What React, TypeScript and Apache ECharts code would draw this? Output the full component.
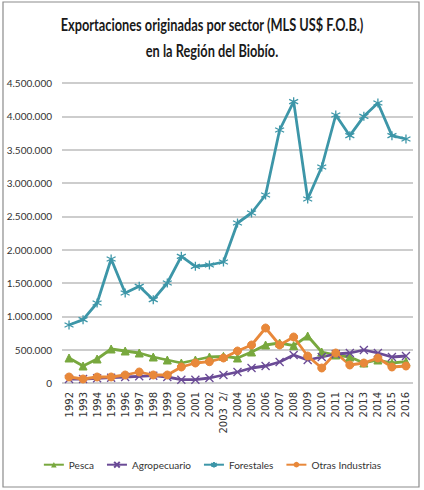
import React, { useEffect, useRef } from "react";
import * as echarts from "echarts";

const years = ["1992","1993","1994","1995","1996","1997","1998","1999","2000","2001","2002","2003  2/","2004","2005","2006","2007","2008","2009","2010","2011","2012","2013","2014","2015","2016"];
const pesca = [375000,255000,360000,510000,480000,450000,390000,345000,300000,345000,390000,400000,375000,465000,570000,600000,560000,705000,465000,420000,390000,300000,345000,300000,320000];
const agropecuario = [60000,60000,70000,80000,90000,100000,110000,90000,50000,50000,75000,120000,165000,225000,255000,315000,420000,345000,390000,435000,450000,495000,450000,390000,405000];
const forestales = [870000,950000,1200000,1860000,1350000,1450000,1250000,1500000,1900000,1750000,1770000,1815000,2400000,2550000,2820000,3795000,4220000,2760000,3240000,4020000,3710000,4000000,4200000,3710000,3660000];
const otras = [90000,60000,90000,90000,120000,165000,120000,120000,240000,300000,320000,375000,480000,570000,825000,570000,690000,405000,225000,450000,270000,300000,375000,240000,255000];

const FONT = "Lato, 'Open Sans', sans-serif";

export default function App() {
  const ref = useRef<HTMLDivElement>(null);
  useEffect(() => {
    document.body.style.margin = "0";
    const chart = echarts.init(ref.current!, null, { renderer: "svg" });
    const fmt = (v: number) => v === 0 ? "0" : String(v).replace(/\B(?=(\d{3})+(?!\d))/g, ".");
    const asterisk = "path://M5,0L5,10M0.7,2.5L9.3,7.5M0.7,7.5L9.3,2.5";
    const xmark = "path://M0,0L10,10M0,10L10,0";
    const mk = (name: string, data: number[], color: string, symbol: string, stroke: boolean, size: number) => ({
      name,
      type: "line",
      data,
      symbol,
      symbolSize: size,
      lineStyle: { color, width: 2.8 },
      itemStyle: stroke ? { color: "none", borderColor: color, borderWidth: 1.3 } : { color, borderColor: color },
      emphasis: { disabled: true },
    });
    chart.setOption({
      animation: false,
      graphic: [
        { type: "rect", shape: { x: 3, y: 2, width: 416, height: 485 }, style: { fill: "none", stroke: "#8c8c8c", lineWidth: 1.2 } },
        {
          type: "group", x: 212, y: 16, scaleX: 0.8, scaleY: 1.06,
          children: [
            { type: "text", x: 0, y: 0, style: { text: "Exportaciones originadas por sector (MLS US$ F.O.B.)", font: `bold 16px ${FONT}`, fill: "#1a1a1a", textAlign: "center" } },
            { type: "text", x: 0, y: 24, style: { text: "en la Región del Biobío.", font: `bold 16px ${FONT}`, fill: "#1a1a1a", textAlign: "center" } },
          ],
        },
      ],
      grid: { left: 62, right: 11, top: 83, bottom: 107 },
      xAxis: {
        type: "category",
        data: years,
        boundaryGap: true,
        axisLine: { show: false },
        axisTick: { show: false },
        axisLabel: { rotate: 90, fontSize: 10, color: "#333", fontFamily: "'DejaVu Sans', sans-serif", margin: 9, interval: 0 },
      },
      yAxis: {
        type: "value",
        min: 0,
        max: 4500000,
        interval: 500000,
        axisLabel: { formatter: fmt, fontSize: 10, color: "#333", fontFamily: FONT, margin: 10 },
        splitLine: { lineStyle: { color: "#bdbdbd", width: 1.5 } },
      },
      legend: {
        bottom: 15,
        left: "center",
        itemWidth: 20,
        itemHeight: 7,
        itemGap: 12,
        textStyle: { fontSize: 10, color: "#333", fontFamily: FONT },
        data: ["Pesca", "Agropecuario", "Forestales", "Otras Industrias"],
      },
      series: [
        mk("Pesca", pesca, "#78a83e", "triangle", false, 8),
        mk("Agropecuario", agropecuario, "#6a4a96", xmark, true, 8),
        mk("Forestales", forestales, "#3d96a8", asterisk, true, 9),
        mk("Otras Industrias", otras, "#e8883a", "circle", false, 8),
      ],
    });
    return () => chart.dispose();
  }, []);
  return <div ref={ref} style={{ width: 424, height: 490 }} />;
}
